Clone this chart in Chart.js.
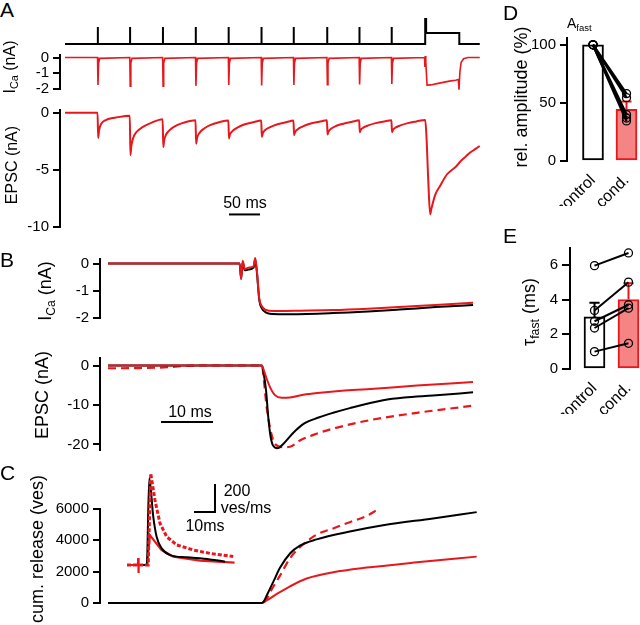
<!DOCTYPE html>
<html>
<head>
<meta charset="utf-8">
<script src="https://cdn.jsdelivr.net/npm/chart.js@4.4.1/dist/chart.umd.min.js"></script>
<style>
  html, body { margin: 0; padding: 0; background: #fff; overflow: hidden; }
  #fig { position: relative; width: 640px; height: 625px; font-family: 'Liberation Sans', Arial, sans-serif; color: #000; }
  #fig canvas { position: absolute; }
  .lbl { position: absolute; white-space: nowrap; line-height: 1; z-index: 2; }
  .rot { transform: translate(-50%, -50%) rotate(-90deg); }
  .ctr { transform: translate(-50%, -50%); }
  .panel { font-size: 21px; }
  .lbl sub { font-size: 0.68em; vertical-align: -0.3em; line-height: 0; }
</style>
</head>
<body>
<div id="fig">
  <div class="lbl panel" style="left:0px;top:-1px">A</div>
  <div class="lbl panel" style="left:0px;top:249px">B</div>
  <div class="lbl panel" style="left:0px;top:462px">C</div>
  <div class="lbl panel" style="left:503px;top:2px">D</div>
  <div class="lbl panel" style="left:503px;top:225px">E</div>

  <div class="lbl rot" style="left:10px;top:67px;font-size:16px">I<sub>Ca</sub> (nA)</div>
  <div class="lbl rot" style="left:12px;top:165px;font-size:16px">EPSC (nA)</div>
  <div class="lbl rot" style="left:45px;top:291px;font-size:18px">I<sub>Ca</sub> (nA)</div>
  <div class="lbl rot" style="left:42px;top:395px;font-size:18px">EPSC (nA)</div>
  <div class="lbl rot" style="left:37px;top:549px;font-size:18px">cum. release (ves)</div>
  <div class="lbl rot" style="left:521px;top:97px;font-size:18px">rel. amplitude (%)</div>
  <div class="lbl rot" style="left:529px;top:312px;font-size:18px">τ<sub>fast</sub> (ms)</div>
  <div class="lbl" style="left:567px;top:16px;font-size:14px">A<sub>fast</sub></div>

  <div class="lbl ctr" style="left:245px;top:203px;font-size:16px">50 ms</div>
  <div class="lbl ctr" style="left:190px;top:412px;font-size:16px">10 ms</div>
  <div class="lbl ctr" style="left:237px;top:491px;font-size:16px">200</div>
  <div class="lbl ctr" style="left:246px;top:508px;font-size:16px">ves/ms</div>
  <div class="lbl ctr" style="left:205px;top:526px;font-size:16px">10ms</div>
</div>
<script>
// ---------------- data ----------------

// Panel A: train of 10 pulses then a long step (time in ms)
const aStimTimes = [53, 105, 158, 211, 264, 317, 369, 423, 475, 527];
const aStepOn = 581;
const aStepOff = 636;
const aEnd = 669;
const aPulseLevel = 17;   // command trace, arbitrary units
const aStepLevel = 11;
const aStepPeak = 25;

// [time ms, I_Ca nA]
const aIca = [
  [0, 0], [52.5, 0], [53.2, -1.75], [54.2, -0.35], [56, -0.05],
  [104.5, 0], [105.2, -1.82], [106.2, -0.35], [108, -0.05],
  [157.5, 0], [158.2, -1.82], [159.2, -0.35], [161, -0.05],
  [210.5, 0], [211.2, -1.8], [212.2, -0.35], [214, -0.05],
  [263.5, 0], [264.2, -1.75], [265.2, -0.35], [267, -0.05],
  [316.5, 0], [317.2, -1.77], [318.2, -0.35], [320, -0.05],
  [368.5, 0], [369.2, -1.75], [370.2, -0.35], [372, -0.05],
  [422.5, 0], [423.2, -1.72], [424.2, -0.35], [426, -0.05],
  [474.5, 0], [475.2, -1.72], [476.2, -0.35], [478, -0.05],
  [526.5, 0], [527.2, -1.68], [528.2, -0.35], [530, -0.05],
  [580, 0], [580.5, -0.6], [581, 0.1], [582, -0.3], [584, -1.75], [590, -1.74],
  [600, -1.66], [610, -1.58], [620, -1.5], [630, -1.44], [634.5, -1.4],
  [635.5, -2.04], [637, -0.9], [639, -0.3], [643, -0.08], [650, 0], [669, 0]
];

// [time ms, EPSC nA]
const aEpsc = [
  [0, 0], [52.5, 0],
  [53.5, -2.2], [55, -1.5], [58, -1.0], [65, -0.65], [80, -0.42], [95, -0.3], [104.5, -0.25],
  [105.5, -3.7], [107, -2.9], [110, -2.2], [115, -1.7], [125, -1.25], [140, -0.85], [157.5, -0.55],
  [158.5, -3.0], [160, -2.4], [163, -1.9], [170, -1.45], [180, -1.1], [195, -0.8], [210.5, -0.65],
  [211.5, -2.7], [213, -2.2], [217, -1.75], [225, -1.35], [235, -1.05], [250, -0.8], [263.5, -0.68],
  [264.5, -2.25], [266, -1.9], [270, -1.6], [278, -1.3], [290, -1.0], [305, -0.8], [316.5, -0.68],
  [317.5, -2.1], [319, -1.8], [323, -1.5], [331, -1.25], [343, -1.0], [358, -0.8], [368.5, -0.68],
  [369.5, -1.95], [371, -1.7], [375, -1.45], [383, -1.2], [395, -0.95], [410, -0.78], [422.5, -0.65],
  [423.5, -1.9], [425, -1.65], [429, -1.4], [437, -1.15], [449, -0.95], [463, -0.78], [474.5, -0.65],
  [475.5, -1.7], [477, -1.5], [481, -1.3], [489, -1.1], [501, -0.9], [515, -0.75], [526.5, -0.65],
  [527.5, -1.7], [529, -1.5], [533, -1.3], [541, -1.1], [553, -0.9], [567, -0.75], [581, -0.62],
  [583, -2], [586, -6], [589, -8.9], [591, -8.4], [597, -7.2], [605, -6.4], [616, -5.4],
  [624, -5.0], [630, -4.75], [637, -4.3], [645, -3.9], [653, -3.5], [661, -3.2], [669, -2.9]
];

// Panel B (time in ms): black = control, red = conditioned
const bIcaControl = [
  [0, 0], [25.3, 0], [25.6, -0.55], [25.9, 0.05], [26.3, -0.25], [27, -0.22], [28, -0.15],
  [28.3, 0.15], [28.6, -0.25], [29.1, -1.35], [29.6, -1.65], [30.4, -1.8], [31.5, -1.85],
  [35, -1.86], [43.3, -1.82], [50, -1.76], [56, -1.69], [63, -1.6], [70.2, -1.52]
];
const bIcaCond = [
  [0, 0], [25.3, 0], [25.6, -0.58], [25.9, 0.1], [26.3, -0.2], [27, -0.15], [28, -0.1],
  [28.3, 0.2], [28.6, -0.2], [29.1, -1.3], [29.6, -1.57], [30.2, -1.69], [31, -1.73],
  [33, -1.74], [37, -1.73], [43.3, -1.71], [50, -1.66], [56, -1.6], [63, -1.52], [70.2, -1.44]
];
const bEpscControl = [
  [0, 0], [29.6, 0], [29.9, -1.7], [30.4, -6.4], [30.8, -12.8], [31.2, -17.5], [31.7, -20.2],
  [32.6, -21], [33.7, -19.9], [35.6, -17.1], [37.6, -14.8], [40.5, -13.2], [43.3, -12.0],
  [46.5, -10.8], [52.9, -8.8], [57, -8.1], [62.5, -7.6], [70.2, -6.8]
];
const bEpscCond = [
  [0, 0], [29.6, 0], [29.9, -0.95], [30.5, -3.3], [31.2, -5.6], [32.1, -7.5], [33.4, -8.2],
  [35, -8.1], [37.6, -7.4], [40.8, -6.9], [45, -6.4], [49.8, -6.0], [59.4, -5.1], [70.2, -4.2]
];
const bEpscCondScaled = [
  [0, -0.7], [6, -0.65], [12, -0.4], [15, -0.1], [18, 0], [29.6, 0], [30, -4], [30.5, -10.4],
  [31.2, -16], [32.1, -19.9], [33.7, -20.7], [35, -20.6], [36.9, -19.0], [40.1, -17.3],
  [43.3, -16.0], [49.8, -14.0], [59.4, -12.0], [70.2, -10.2]
];

// Panel C: cumulative release (vesicles)
const cControl = [
  [0, 0], [29.6, 0], [30, 120], [30.5, 460], [31.8, 1360], [33.1, 2260], [35, 3160],
  [36.9, 3660], [40.1, 4060], [46.5, 4560], [52.9, 4960], [62.5, 5400], [70.9, 5800]
];
const cCond = [
  [0, 0], [29.6, 0], [30.5, 160], [32.4, 560], [35, 1060], [38.2, 1560], [43.3, 1960],
  [49.8, 2260], [59.4, 2600], [70.9, 2960]
];
const cCondScaled = [
  [0, 0], [29.6, 0], [30.5, 250], [31.2, 700], [33.1, 1760], [35, 2860], [36.9, 3560],
  [40.1, 4360], [43.3, 4760], [46.5, 5160], [49.8, 5560], [51.6, 5920]
];
// inset: release rate (ves/ms)
const rateControl = [
  [7.6, 0], [9.4, 0], [10.6, 619], [12.5, 345], [14.1, 202], [16.5, 119], [20.5, 71],
  [28.4, 55], [39.5, 40], [46.7, 24]
];
const rateCond = [
  [0, 0], [5.2, 0], [5.35, 50], [5.45, -57], [5.6, 0], [9.7, 0], [10.2, 100], [10.9, 214],
  [13.3, 167], [16.5, 107], [22.1, 60], [34.8, 31], [51.2, 17]
];
const rateCondScaled = [
  [0, 0], [10.1, 0], [11.3, 655], [13.3, 464], [15.7, 298], [18.9, 202], [23.7, 143],
  [31.6, 107], [39.5, 83], [50.6, 60]
];

// Panels D and E
const groupLabels = ['control', 'cond.'];
const groupX = [0, 1];
const dControl = [100, 100, 100, 100, 100];
const dCond = [58, 54.5, 40, 37, 34.5];
const dMean = [100, 44.5];
const dSem = [0, 6.8];
const eControl = [5.95, 3.37, 2.75, 2.36, 1.0];
const eCond = [6.68, 5.0, 3.7, 3.5, 1.48];
const eMean = [3.0, 4.0];
const eSem = [0.82, 0.94];

// tick labels
const aIcaTicks = [0, -1, -2];
const aEpscTicks = [0, -5, -10];
const bIcaTicks = [0, -1, -2];
const bEpscTicks = [0, -10, -20];
const cTicks = [0, 2000, 4000, 6000];
const dTicks = [0, 50, 100];
const eTicks = [0, 2, 4, 6];

// ---------------- drawing ----------------
const RED = '#e8171c';
const RED_FILL = '#f58484';
const BLACK = '#000';

Chart.defaults.font.family = "'Liberation Sans', Arial, sans-serif";
Chart.defaults.font.size = 15;
Chart.defaults.color = BLACK;

// Creates a canvas so the chart area lands exactly on box (page pixels)
function makeChart(box, opt, config) {
  const pad = Object.assign({ top: 0, right: 0, bottom: 0, left: 0 }, opt.pad || {});
  const yW = opt.yW || 0;
  const xH = opt.xH || 0;
  const w = pad.left + yW + (box.right - box.left) + pad.right;
  const h = pad.top + (box.bottom - box.top) + xH + pad.bottom;
  const cv = document.createElement('canvas');
  cv.width = w;
  cv.height = h;
  cv.style.width = w + 'px';
  cv.style.height = h + 'px';
  cv.style.left = (box.left - yW - pad.left) + 'px';
  cv.style.top = (box.top - pad.top) + 'px';
  document.getElementById('fig').appendChild(cv);
  config.options = Object.assign({
    responsive: false,
    devicePixelRatio: 1,
    animation: false,
    events: [],
    layout: { padding: pad },
    plugins: { legend: { display: false }, tooltip: { enabled: false } }
  }, config.options);
  return new Chart(cv.getContext('2d'), config);
}

function yAxis(min, max, ticks, width, tickLength) {
  return {
    type: 'linear', min, max,
    border: { display: true, color: BLACK, width: 2 },
    grid: { display: true, drawOnChartArea: false, drawTicks: true, tickLength: tickLength || 7, color: BLACK, lineWidth: 2 },
    ticks: { autoSkip: false, padding: 4, color: BLACK, font: { size: 15 }, callback: v => String(v) },
    afterBuildTicks: s => { s.ticks = ticks.map(v => ({ value: v })); },
    afterFit: s => { s.width = width; }
  };
}

function xHidden(min, max) {
  return { type: 'linear', min, max, display: false };
}

function trace(pairs, color, width, dash, smooth) {
  return {
    type: 'line',
    data: pairs.map(p => ({ x: p[0], y: p[1] })),
    borderColor: color,
    borderWidth: width,
    borderDash: dash || [],
    pointRadius: 0,
    fill: false,
    tension: 0,
    cubicInterpolationMode: smooth ? 'monotone' : 'default',
    clip: false
  };
}

// x range from pixel mapping (t = 0 at x0, pxPerMs)
function xRange(left, right, x0, pxPerMs) {
  return [(left - x0) / pxPerMs, (right - x0) / pxPerMs];
}

// ---- Panel A ----
const aPx = 1 / 1.613;
const [aMin, aMax] = xRange(60, 482, 65, aPx);

const stimPts = [[0, 0]];
aStimTimes.forEach(t => { stimPts.push([t, 0], [t, aPulseLevel], [t, 0]); });
stimPts.push([aStepOn, 0], [aStepOn, aStepPeak], [aStepOn + 1.5, aStepPeak], [aStepOn + 1.5, aStepLevel],
  [aStepOff, aStepLevel], [aStepOff, 0], [aEnd, 0]);

makeChart({ left: 60, right: 482, top: 19, bottom: 44 }, { pad: { top: 5, bottom: 5, left: 5, right: 5 } }, {
  type: 'line',
  data: { datasets: [trace(stimPts, BLACK, 2)] },
  options: { scales: { x: xHidden(aMin, aMax), y: { type: 'linear', min: 0, max: 25, display: false } } }
});

makeChart({ left: 60, right: 482, top: 52, bottom: 92 }, { yW: 60, pad: { top: 10, bottom: 10 } }, {
  type: 'line',
  data: { datasets: [trace(aIca, RED, 1.6)] },
  options: { scales: { x: xHidden(aMin, aMax), y: yAxis(-2, 3 / 18.5, aIcaTicks, 60) } }
});

const aBar = { t: 264.5, len: 50, level: -8.9 };
makeChart({ left: 60, right: 482, top: 107, bottom: 230 }, { yW: 60, pad: { top: 10, bottom: 10 } }, {
  type: 'line',
  data: { datasets: [
    trace(aEpsc, RED, 2, null, true),
    trace([[aBar.t, aBar.level], [aBar.t + aBar.len, aBar.level]], BLACK, 2)
  ] },
  options: { scales: { x: xHidden(aMin, aMax), y: yAxis(-10, 0.25, aEpscTicks, 60) } }
});

// ---- Panels B and C ----
const [bMin, bMax] = xRange(100, 477, 108, 5.2);

makeChart({ left: 100, right: 477, top: 256, bottom: 321 }, { yW: 100, pad: { top: 10, bottom: 10 } }, {
  type: 'line',
  data: { datasets: [trace(bIcaCond, RED, 2, null, true), trace(bIcaControl, BLACK, 2, null, true)] },
  options: { scales: { x: xHidden(bMin, bMax), y: yAxis(-2, 5 / 30, bIcaTicks, 100) } }
});

const bBar = { t: 10.2, len: 10, level: -14.3 };
makeChart({ left: 100, right: 477, top: 355, bottom: 453 }, { yW: 100, pad: { top: 10, bottom: 10 } }, {
  type: 'line',
  data: { datasets: [
    trace(bEpscCond, RED, 2, null, true),
    trace(bEpscControl, BLACK, 2, null, true),
    trace(bEpscCondScaled, RED, 2.2, [8, 5], true),
    trace([[bBar.t, bBar.level], [bBar.t + bBar.len, bBar.level]], BLACK, 2)
  ] },
  options: { scales: { x: xHidden(bMin, bMax), y: yAxis(-90 / 4.2, 8 / 4.2, bEpscTicks, 100) } }
});

makeChart({ left: 100, right: 477, top: 506, bottom: 606 }, { yW: 100, pad: { top: 10, bottom: 10 } }, {
  type: 'line',
  data: { datasets: [
    trace(cControl, BLACK, 2, null, true),
    trace(cCond, RED, 2, null, true),
    trace(cCondScaled, RED, 2.2, [8, 5], true)
  ] },
  options: { scales: { x: xHidden(bMin, bMax), y: yAxis(0, 6000, cTicks, 100) } }
});

// inset: release rate, 2.1 px/ms and 0.14 px per ves/ms, baseline at y = 565
const [iMin, iMax] = xRange(125, 240, 127, 2.1);
const inBar = { t: 31.9, len: 10, r: 379, h: 200 };
makeChart({ left: 125, right: 240, top: 465, bottom: 578 }, { pad: { top: 5, bottom: 5, left: 5, right: 5 } }, {
  type: 'line',
  data: { datasets: [
    trace(rateCondScaled, RED, 3, [4, 2], false),
    trace(rateControl, BLACK, 2, null, true),
    trace(rateCond, RED, 2.2, null, false),
    trace([[inBar.t, inBar.r], [inBar.t + inBar.len, inBar.r], [inBar.t + inBar.len, inBar.r + inBar.h]], BLACK, 2)
  ] },
  options: { scales: { x: xHidden(iMin, iMax), y: { type: 'linear', min: -(578 - 565) / 0.14, max: (565 - 465) / 0.14, display: false } } }
});

// ---- Panels D and E ----
function xGroups(min, max, height) {
  return {
    type: 'linear', min, max, offset: false,
    grid: { display: false }, border: { display: false },
    ticks: { autoSkip: false, minRotation: 45, maxRotation: 45, padding: 2, color: BLACK, font: { size: 16 },
      callback: v => (groupLabels[v] !== undefined ? groupLabels[v] : '') },
    afterBuildTicks: s => { s.ticks = groupX.map(v => ({ value: v })); },
    afterFit: s => { s.height = height; }
  };
}

function barSet(means) {
  return {
    type: 'bar',
    data: groupX.map((x, i) => ({ x, y: means[i] })),
    backgroundColor: ['#fff', RED_FILL],
    borderColor: [BLACK, RED],
    borderWidth: 2,
    borderSkipped: false,
    barThickness: 21,
    order: 3
  };
}

function errorSets(means, sems, capHalf) {
  const colors = [BLACK, RED];
  const sets = [];
  groupX.forEach((x, i) => {
    if (!sems[i]) return;
    const top = means[i] + sems[i];
    sets.push({
      type: 'line',
      data: [{ x, y: means[i] }, { x, y: top }, { x: x - capHalf, y: top }, { x: x + capHalf, y: top }],
      borderColor: colors[i], borderWidth: 2, pointRadius: 0, clip: false, order: 2
    });
  });
  return sets;
}

function pairSets(ctrl, cond, width) {
  return ctrl.map((c, i) => ({
    type: 'line',
    data: [{ x: groupX[0], y: c }, { x: groupX[1], y: cond[i] }],
    borderColor: BLACK, borderWidth: width,
    pointRadius: 4, pointBorderWidth: 1.3, pointBorderColor: BLACK,
    pointBackgroundColor: 'rgba(255,255,255,0)',
    clip: false, order: 1
  }));
}

makeChart({ left: 567, right: 640, top: 35, bottom: 161 }, { yW: 87, xH: 45, pad: { top: 10, right: 8 } }, {
  type: 'bar',
  data: { datasets: [barSet(dMean), ...errorSets(dMean, dSem, 0.15), ...pairSets(dControl, dCond, 2.5)] },
  options: { scales: { x: xGroups((567 - 593) / 33.5, (640 - 593) / 33.5, 45), y: yAxis(0, (161 - 35) / 1.19, dTicks, 87) } }
});

makeChart({ left: 570, right: 640, top: 245, bottom: 369 }, { yW: 90, xH: 45, pad: { top: 10, right: 8 } }, {
  type: 'bar',
  data: { datasets: [barSet(eMean), ...errorSets(eMean, eSem, 0.15), ...pairSets(eControl, eCond, 2)] },
  options: { scales: { x: xGroups((570 - 594.5) / 34, (640 - 594.5) / 34, 45), y: yAxis(0, (369 - 245) / 17.8, eTicks, 90, 8) } }
});
</script>
</body>
</html>
